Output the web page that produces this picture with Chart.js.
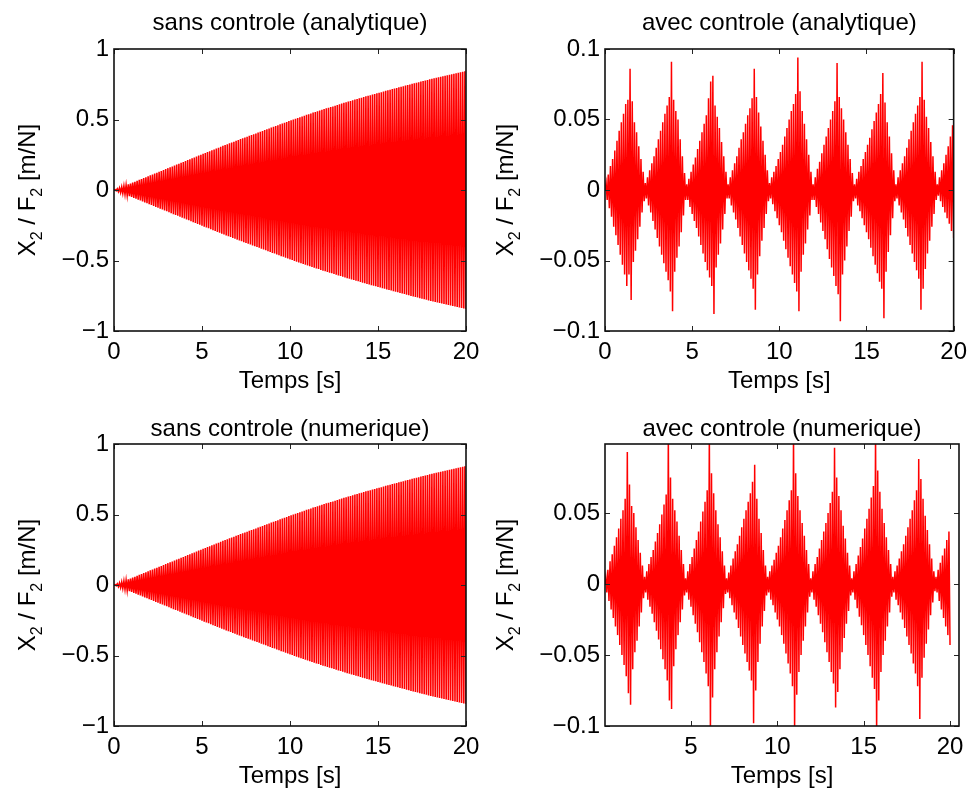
<!DOCTYPE html>
<html>
<head>
<meta charset="utf-8">
<script src="https://cdn.jsdelivr.net/npm/chart.js@4.4.1/dist/chart.umd.min.js"></script>
<style>
  body { margin: 0; background: #fff; width: 974px; height: 795px; position: relative; overflow: hidden; }
  .panel { position: absolute; width: 487px; height: 400px; }
</style>
</head>
<body>
<div class="panel" style="left:0;top:0"><canvas id="sansAna"></canvas></div>
<div class="panel" style="left:487px;top:0"><canvas id="avecAna"></canvas></div>
<div class="panel" style="left:0;top:395px"><canvas id="sansNum"></canvas></div>
<div class="panel" style="left:487px;top:395px"><canvas id="avecNum"></canvas></div>
<script>
// sample step between successive extremes [s]
const dt = 0.0625;

// X2/F2 without control: extremes read off the growing envelope (same for both methods)
const sansControle = [0,
  0.002,-0.005,0.008,-0.011,0.014,-0.018,0.021,-0.024,0.027,-0.030,0.033,-0.037,0.040,-0.043,0.046,-0.049,
  0.053,-0.056,0.059,-0.062,0.065,-0.069,0.072,-0.075,0.078,-0.081,0.084,-0.088,0.091,-0.094,0.097,-0.100,
  0.104,-0.107,0.110,-0.113,0.116,-0.120,0.123,-0.126,0.129,-0.132,0.135,-0.139,0.142,-0.145,0.148,-0.151,
  0.155,-0.158,0.161,-0.164,0.167,-0.171,0.174,-0.177,0.180,-0.183,0.186,-0.190,0.193,-0.196,0.199,-0.202,
  0.206,-0.209,0.212,-0.215,0.218,-0.222,0.225,-0.228,0.231,-0.234,0.237,-0.241,0.244,-0.247,0.250,-0.253,
  0.257,-0.260,0.263,-0.266,0.269,-0.272,0.275,-0.278,0.282,-0.285,0.288,-0.291,0.294,-0.297,0.300,-0.303,
  0.307,-0.310,0.313,-0.316,0.319,-0.322,0.325,-0.328,0.331,-0.334,0.337,-0.340,0.343,-0.346,0.349,-0.352,
  0.355,-0.358,0.361,-0.364,0.367,-0.370,0.373,-0.376,0.378,-0.381,0.384,-0.387,0.390,-0.393,0.396,-0.399,
  0.401,-0.404,0.407,-0.410,0.413,-0.416,0.419,-0.422,0.425,-0.428,0.431,-0.434,0.437,-0.440,0.443,-0.446,
  0.448,-0.451,0.454,-0.457,0.460,-0.463,0.466,-0.469,0.471,-0.474,0.477,-0.480,0.483,-0.486,0.489,-0.492,
  0.494,-0.497,0.500,-0.503,0.505,-0.508,0.511,-0.514,0.516,-0.519,0.522,-0.525,0.527,-0.530,0.533,-0.536,
  0.538,-0.541,0.543,-0.546,0.549,-0.551,0.554,-0.556,0.559,-0.561,0.564,-0.567,0.569,-0.572,0.574,-0.577,
  0.579,-0.581,0.584,-0.586,0.589,-0.591,0.593,-0.596,0.598,-0.601,0.603,-0.606,0.608,-0.610,0.613,-0.615,
  0.618,-0.620,0.622,-0.625,0.627,-0.629,0.632,-0.634,0.636,-0.638,0.641,-0.643,0.645,-0.648,0.650,-0.652,
  0.655,-0.657,0.659,-0.661,0.664,-0.666,0.668,-0.670,0.672,-0.675,0.677,-0.679,0.681,-0.683,0.686,-0.688,
  0.690,-0.692,0.694,-0.696,0.699,-0.701,0.703,-0.705,0.707,-0.709,0.711,-0.713,0.716,-0.718,0.720,-0.722,
  0.724,-0.726,0.728,-0.730,0.732,-0.734,0.736,-0.738,0.741,-0.743,0.745,-0.747,0.749,-0.751,0.753,-0.755,
  0.757,-0.759,0.761,-0.763,0.765,-0.767,0.769,-0.771,0.773,-0.775,0.777,-0.779,0.781,-0.783,0.785,-0.787,
  0.789,-0.791,0.793,-0.794,0.796,-0.798,0.800,-0.802,0.803,-0.805,0.807,-0.809,0.811,-0.812,0.814,-0.816,
  0.818,-0.820,0.821,-0.823,0.825,-0.827,0.828,-0.830,0.832,-0.834,0.835,-0.837,0.839,-0.841,0.842,-0.844
];

// X2/F2 with control, analytical solution (one line per beat lobe)
const avecAnalytique = [0,
  0.005,-0.007,0.011,-0.013,0.017,-0.019,0.022,-0.026,0.028,-0.032,0.035,-0.039,0.042,-0.046,0.048,-0.053,0.054,-0.060,0.061,-0.068,0.064,-0.060,0.086,-0.078,0.063,-0.051,0.048,-0.043,0.041,-0.035,0.031,-0.026,0.022,-0.016,0.013,-0.008,
  0.005,-0.006,0.009,-0.011,0.014,-0.016,0.019,-0.022,0.024,-0.028,0.030,-0.034,0.036,-0.040,0.042,-0.046,0.048,-0.052,0.054,-0.058,0.060,-0.064,0.066,-0.072,0.091,-0.086,0.064,-0.058,0.056,-0.048,0.050,-0.040,0.036,-0.030,0.024,-0.018,0.012,-0.007,
  0.004,-0.007,0.008,-0.012,0.013,-0.017,0.018,-0.022,0.023,-0.027,0.029,-0.033,0.035,-0.039,0.041,-0.045,0.047,-0.051,0.053,-0.057,0.065,-0.062,0.077,-0.068,0.081,-0.088,0.060,-0.055,0.052,-0.046,0.044,-0.038,0.034,-0.028,0.024,-0.017,0.013,-0.006,
  0.004,-0.006,0.009,-0.011,0.014,-0.016,0.019,-0.021,0.024,-0.027,0.030,-0.033,0.036,-0.039,0.041,-0.045,0.047,-0.051,0.053,-0.057,0.058,-0.063,0.065,-0.070,0.086,-0.085,0.066,-0.060,0.055,-0.047,0.045,-0.036,0.035,-0.027,0.025,-0.017,0.014,-0.008,
  0.005,-0.006,0.009,-0.010,0.013,-0.015,0.017,-0.020,0.022,-0.025,0.027,-0.030,0.032,-0.036,0.038,-0.042,0.044,-0.048,0.050,-0.054,0.056,-0.060,0.061,-0.066,0.068,-0.072,0.094,-0.086,0.070,-0.058,0.056,-0.046,0.047,-0.038,0.036,-0.028,0.025,-0.018,0.013,-0.007,
  0.004,-0.007,0.009,-0.012,0.015,-0.017,0.020,-0.023,0.026,-0.029,0.032,-0.035,0.038,-0.042,0.044,-0.049,0.050,-0.055,0.056,-0.061,0.063,-0.068,0.090,-0.074,0.066,-0.093,0.058,-0.060,0.050,-0.050,0.041,-0.040,0.032,-0.029,0.022,-0.019,0.012,-0.008,
  0.004,-0.006,0.008,-0.011,0.013,-0.015,0.017,-0.020,0.022,-0.025,0.027,-0.030,0.032,-0.035,0.037,-0.041,0.043,-0.047,0.049,-0.053,0.055,-0.059,0.061,-0.065,0.068,-0.070,0.083,-0.091,0.062,-0.058,0.048,-0.044,0.038,-0.032,0.026,-0.020,0.014,-0.008,
  0.004,-0.006,0.009,-0.011,0.014,-0.016,0.019,-0.021,0.024,-0.027,0.030,-0.033,0.036,-0.039,0.042,-0.045,0.048,-0.051,0.054,-0.057,0.060,-0.063,0.066,-0.085,0.091,-0.070,0.064,-0.056,0.052,-0.045,0.044,-0.036,0.034,-0.026,0.024,-0.017,0.013,-0.007,
  0.004,-0.004,0.009,-0.008,0.014,-0.012,0.019,-0.016,0.025,-0.020,0.031,-0.024,0.038,-0.029,0.046,-0.034
];

// X2/F2 with control, numerical solution (one line per beat lobe)
const avecNumerique = [0,
  0.005,-0.006,0.010,-0.012,0.016,-0.018,0.021,-0.024,0.027,-0.030,0.033,-0.036,0.039,-0.043,0.046,-0.050,0.052,-0.057,0.060,-0.065,0.093,-0.077,0.070,-0.085,0.055,-0.060,0.050,-0.048,0.040,-0.040,0.031,-0.030,0.022,-0.020,0.013,-0.010,
  0.005,-0.006,0.009,-0.011,0.014,-0.016,0.019,-0.021,0.024,-0.027,0.030,-0.033,0.036,-0.039,0.042,-0.046,0.049,-0.053,0.056,-0.060,0.063,-0.068,0.105,-0.082,0.075,-0.088,0.060,-0.058,0.052,-0.046,0.044,-0.036,0.034,-0.027,0.024,-0.018,0.014,-0.008,
  0.004,-0.006,0.009,-0.011,0.014,-0.016,0.019,-0.022,0.025,-0.028,0.031,-0.034,0.037,-0.041,0.044,-0.048,0.051,-0.055,0.058,-0.063,0.066,-0.072,0.106,-0.105,0.078,-0.080,0.064,-0.060,0.052,-0.048,0.042,-0.037,0.033,-0.027,0.023,-0.017,0.013,-0.007,
  0.004,-0.006,0.008,-0.010,0.013,-0.015,0.018,-0.020,0.023,-0.025,0.028,-0.031,0.034,-0.037,0.040,-0.043,0.046,-0.049,0.052,-0.055,0.058,-0.061,0.064,-0.068,0.072,-0.098,0.084,-0.075,0.060,-0.055,0.046,-0.042,0.036,-0.030,0.024,-0.019,0.013,-0.008,
  0.005,-0.006,0.009,-0.011,0.013,-0.015,0.017,-0.020,0.022,-0.025,0.027,-0.030,0.033,-0.036,0.039,-0.042,0.045,-0.049,0.052,-0.056,0.059,-0.063,0.066,-0.072,0.106,-0.104,0.078,-0.078,0.062,-0.062,0.052,-0.050,0.043,-0.040,0.034,-0.030,0.024,-0.020,0.014,-0.009,
  0.004,-0.006,0.009,-0.011,0.014,-0.016,0.019,-0.022,0.025,-0.028,0.031,-0.034,0.037,-0.041,0.043,-0.048,0.050,-0.055,0.057,-0.062,0.065,-0.070,0.096,-0.087,0.075,-0.076,0.062,-0.060,0.052,-0.048,0.041,-0.038,0.032,-0.028,0.022,-0.019,0.013,-0.008,
  0.004,-0.006,0.009,-0.011,0.014,-0.017,0.020,-0.023,0.026,-0.029,0.032,-0.036,0.039,-0.043,0.046,-0.050,0.053,-0.058,0.061,-0.066,0.069,-0.074,0.107,-0.106,0.080,-0.082,0.065,-0.062,0.053,-0.050,0.043,-0.040,0.033,-0.030,0.024,-0.020,0.014,-0.009,
  0.005,-0.006,0.009,-0.011,0.013,-0.015,0.018,-0.020,0.023,-0.025,0.028,-0.031,0.034,-0.037,0.040,-0.043,0.046,-0.049,0.052,-0.056,0.059,-0.063,0.066,-0.072,0.088,-0.095,0.074,-0.066,0.060,-0.052,0.048,-0.042,0.038,-0.032,0.028,-0.022,0.018,-0.013,0.009,-0.005,
  0.005,-0.006,0.010,-0.012,0.015,-0.018,0.020,-0.024,0.025,-0.030,0.031,-0.036,0.037,-0.043
];

// tick labels
const ticksSans = [-1, -0.5, 0, 0.5, 1];
const ticksAvecAna = [-0.1, -0.05, 0, 0.05, 0.1];
const ticksAvecNum = [-0.1, -0.05, 0, 0.05];
const ticksTemps = [0, 5, 10, 15, 20];
const ticksTempsNum = [5, 10, 15, 20];

const FONT = '"Liberation Sans", Arial, Helvetica, sans-serif';

function fmt(v) {
  return v < 0 ? '\u2212' + String(-v) : String(v);
}

// box, inward ticks on all sides, title and the y label with subscripts
const matlabFrame = {
  id: 'matlabFrame',
  afterDraw(chart, args, opts) {
    const ctx = chart.ctx;
    const ca = chart.chartArea;
    const xs = chart.scales.x, ys = chart.scales.y;
    ctx.save();
    ctx.strokeStyle = '#262626';
    ctx.lineWidth = 1;
    ctx.beginPath();
    opts.xTicks.forEach(v => {
      const px = Math.round(xs.getPixelForValue(v)) + 0.5;
      ctx.moveTo(px, ca.bottom); ctx.lineTo(px, ca.bottom - 5);
      ctx.moveTo(px, ca.top); ctx.lineTo(px, ca.top + 5);
    });
    opts.yTicks.forEach(v => {
      const py = Math.round(ys.getPixelForValue(v)) + 0.5;
      ctx.moveTo(ca.left, py); ctx.lineTo(ca.left + 5, py);
      ctx.moveTo(ca.right, py); ctx.lineTo(ca.right - 5, py);
    });
    ctx.stroke();
    ctx.strokeStyle = '#111';
    ctx.lineWidth = 1.6;
    ctx.strokeRect(ca.left, ca.top, ca.right - ca.left, ca.bottom - ca.top);

    ctx.fillStyle = '#000';
    ctx.font = '24px ' + FONT;
    ctx.textAlign = 'center';
    ctx.textBaseline = 'alphabetic';
    ctx.fillText(opts.title, (ca.left + ca.right) / 2, opts.titleY);

    // y label: X2 / F2 [m/N]
    const parts = [['X', false], ['2', true], [' / F', false], ['2', true], [' [m/N]', false]];
    const big = '24px ' + FONT, small = '16px ' + FONT;
    let total = 0;
    const widths = parts.map(([t, sub]) => {
      ctx.font = sub ? small : big;
      const w = ctx.measureText(t).width;
      total += w;
      return w;
    });
    ctx.translate(opts.yLabelX, (ca.top + ca.bottom) / 2);
    ctx.rotate(-Math.PI / 2);
    ctx.textAlign = 'left';
    let x = -total / 2;
    parts.forEach(([t, sub], i) => {
      ctx.font = sub ? small : big;
      ctx.fillText(t, x, sub ? 7 : 0);
      x += widths[i];
    });
    ctx.restore();
  }
};

function makePanel(id, p) {
  const points = p.values.map((v, i) => ({ x: i * dt, y: v }));
  const tickFont = { family: FONT, size: 24 };
  return new Chart(document.getElementById(id), {
    type: 'line',
    data: {
      datasets: [{
        data: points,
        borderColor: '#ff0000',
        borderWidth: p.lineWidth,
        pointRadius: 0,
        tension: 0,
        fill: false
      }]
    },
    options: {
      responsive: true,
      maintainAspectRatio: false,
      animation: false,
      events: [],
      layout: { padding: { left: 0, right: p.padRight, top: 49, bottom: 0 } },
      scales: {
        x: {
          type: 'linear',
          min: p.xMin,
          max: p.xMax,
          afterBuildTicks: s => { s.ticks = p.xTicks.map(v => ({ value: v })); },
          afterFit: s => { s.height = 69; },
          grid: { display: false, drawTicks: false },
          border: { display: false },
          ticks: { font: tickFont, color: '#000', padding: 7, maxRotation: 0, autoSkip: false, callback: fmt },
          title: { display: true, text: 'Temps [s]', font: tickFont, color: '#000', padding: { top: 0, bottom: 4 } }
        },
        y: {
          type: 'linear',
          min: p.yMin,
          max: p.yMax,
          afterBuildTicks: s => { s.ticks = p.yTicks.map(v => ({ value: v })); },
          afterFit: s => { s.width = p.yWidth; },
          grid: { display: false, drawTicks: false },
          border: { display: false },
          ticks: { font: tickFont, color: '#000', padding: 5, autoSkip: false, callback: fmt }
        }
      },
      plugins: {
        legend: { display: false },
        tooltip: { enabled: false },
        matlabFrame: {
          title: p.title, titleY: p.titleY, yLabelX: p.yLabelX,
          xTicks: p.xTicks, yTicks: p.yTicks
        }
      }
    },
    plugins: [matlabFrame]
  });
}

makePanel('sansAna', {
  values: sansControle, title: 'sans controle (analytique)', titleY: 30, lineWidth: 1.6,
  xMin: 0, xMax: 20, yMin: -1, yMax: 1, xTicks: ticksTemps, yTicks: ticksSans,
  yWidth: 114, padRight: 21, yLabelX: 35
});
makePanel('avecAna', {
  values: avecAnalytique, title: 'avec controle (analytique)', titleY: 30, lineWidth: 1.5,
  xMin: 0, xMax: 20, yMin: -0.1, yMax: 0.1, xTicks: ticksTemps, yTicks: ticksAvecAna,
  yWidth: 118, padRight: 15, yLabelX: 26
});
makePanel('sansNum', {
  values: sansControle, title: 'sans controle (numerique)', titleY: 41, lineWidth: 1.6,
  xMin: 0, xMax: 20, yMin: -1, yMax: 1, xTicks: ticksTemps, yTicks: ticksSans,
  yWidth: 114, padRight: 21, yLabelX: 35
});
makePanel('avecNum', {
  values: avecNumerique, title: 'avec controle (numerique)', titleY: 41, lineWidth: 1.5,
  xMin: 0.02, xMax: 20.52, yMin: -0.1, yMax: 0.0986, xTicks: ticksTempsNum, yTicks: ticksAvecNum,
  yWidth: 118, padRight: 15, yLabelX: 26
});
</script>
</body>
</html>
